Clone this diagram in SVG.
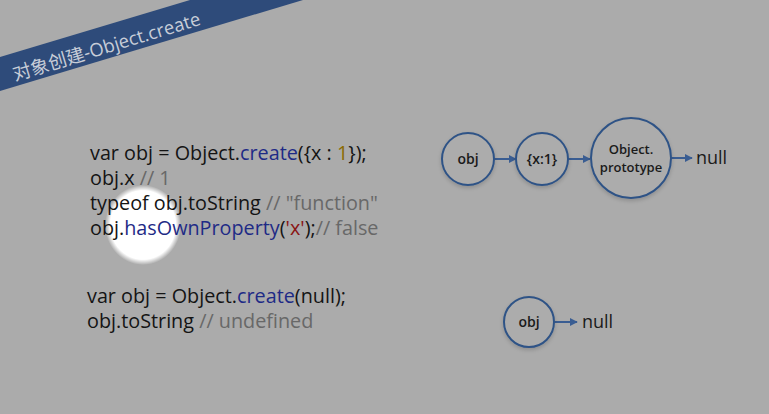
<svg xmlns="http://www.w3.org/2000/svg" width="769" height="414" viewBox="0 0 769 414">
  <style>
    .code { font-family: "Open Sans", "Liberation Sans", sans-serif; font-size: 19.8px; fill: #141414; }
    .kw { fill: #1e2a86; }
    .num { fill: #8a6a00; }
    .str { fill: #8a1414; }
    .cmt { fill: #686868; }
    .node circle { fill: #acacac; stroke: #2f5386; stroke-width: 2; filter: url(#shadow); }
    .node text { font-family: "Open Sans", "Liberation Sans", sans-serif; font-size: 14px; font-weight: 600; fill: #1a1a1a; text-anchor: middle; }
    .node text.sm { font-size: 13px; }
    .nul { font-family: "Open Sans", "Liberation Sans", sans-serif; font-size: 18px; fill: #1a1a1a; }
    .edge { stroke: #3a5d92; stroke-width: 2; fill: none; marker-end: url(#arrow); }
  </style>
  <defs>
    <marker id="arrow" viewBox="0 0 10 10" refX="9" refY="5" markerWidth="4" markerHeight="4" orient="auto" markerUnits="strokeWidth">
      <path d="M0,0 L10,5 L0,10 z" fill="#3a5d92"/>
    </marker>
    <filter id="shadow" x="-20%" y="-20%" width="140%" height="150%">
      <feGaussianBlur in="SourceAlpha" stdDeviation="2"/>
      <feOffset dx="0" dy="2" result="b"/>
      <feComponentTransfer><feFuncA type="linear" slope="0.18"/></feComponentTransfer>
      <feMerge><feMergeNode/><feMergeNode in="SourceGraphic"/></feMerge>
    </filter>
    <radialGradient id="spot" cx="0.5" cy="0.5" r="0.5">
      <stop offset="0.86" stop-color="#ffffff" stop-opacity="1"/>
      <stop offset="1" stop-color="#ffffff" stop-opacity="0"/>
    </radialGradient>
  </defs>

  <!-- background -->
  <rect x="0" y="0" width="769" height="414" fill="#ababab"/>

  <!-- title ribbon -->
  <polygon points="0,57 190,0 303,0 0,91" fill="#2e4b7a"/>
  <text x="15" y="81" transform="rotate(-16.8 15 81)"
        font-family="'Open Sans', 'Noto Sans CJK SC', sans-serif" font-size="18.5" fill="#c7cdd8">对象创建-Object.create</text>

  <!-- highlight spot -->
  <ellipse cx="143" cy="225" rx="38" ry="40" fill="url(#spot)"/>

  <!-- code block 1 -->
  <text class="code" x="90" y="160">var obj = Object.<tspan class="kw">create</tspan>({x : <tspan class="num">1</tspan>});</text>
  <text class="code" x="90" y="185">obj.x <tspan class="cmt">// 1</tspan></text>
  <text class="code" x="90" y="210">typeof obj.toString <tspan class="cmt">// "function"</tspan></text>
  <text class="code" x="90" y="235">obj.<tspan class="kw">hasOwnProperty</tspan>(<tspan class="str">'x'</tspan>);<tspan class="cmt">// false</tspan></text>

  <!-- code block 2 -->
  <text class="code" x="87" y="303">var obj = Object.<tspan class="kw">create</tspan>(null);</text>
  <text class="code" x="87" y="328">obj.toString <tspan class="cmt">// undefined</tspan></text>

  <!-- connectors -->
  <g id="connectors">
    <line class="edge" x1="494" y1="159" x2="516" y2="159"/>
    <line class="edge" x1="568" y1="159" x2="590" y2="159"/>
    <line class="edge" x1="671" y1="158" x2="692" y2="158"/>
    <line class="edge" x1="554" y1="322" x2="577" y2="322"/>
  </g>

  <!-- prototype chain 1 -->
  <g id="node-obj1" class="node">
    <circle cx="468" cy="159" r="26"/>
    <text x="468" y="164">obj</text>
  </g>
  <g id="node-x1" class="node">
    <circle cx="542" cy="159" r="26"/>
    <text x="542" y="164">{x:1}</text>
  </g>
  <g id="node-proto" class="node">
    <circle cx="631" cy="158" r="40"/>
    <text class="sm" x="631" y="154">Object.</text>
    <text class="sm" x="631" y="172">prototype</text>
  </g>
  <text id="null1" class="nul" x="696" y="164">null</text>

  <!-- prototype chain 2 -->
  <g id="node-obj2" class="node">
    <circle cx="529" cy="322" r="25"/>
    <text x="529" y="327">obj</text>
  </g>
  <text id="null2" class="nul" x="582" y="328">null</text>
</svg>
